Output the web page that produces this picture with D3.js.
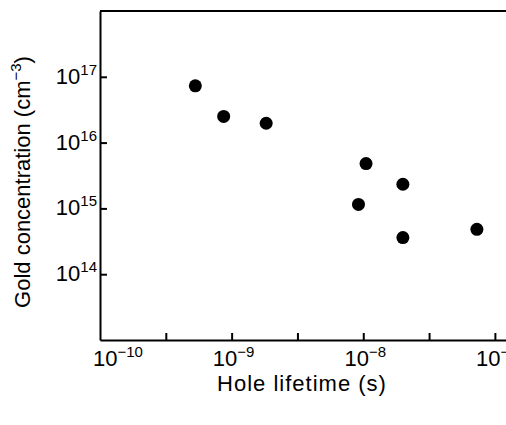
<!DOCTYPE html>
<html lang="en">
  <head>
    <meta charset="utf-8">
    <title>Gold concentration vs hole lifetime</title>
    <script src="https://d3js.org/d3.v7.min.js"></script>
    <style>
      body { margin: 0; background: #fff; }
      svg text { font-family: "Liberation Sans", Arial, sans-serif; fill: #000; }
    </style>
  </head>
  <body>
    <div id="main"></div>
    <script>
      // hole lifetime (s) and gold concentration (cm^-3)
      var lifetime = [5.3e-10, 8.7e-10, 1.83e-9, 1.05e-8, 2.0e-8, 9.2e-9, 2.0e-8, 7.3e-8];
      var concentration = [7.3e16, 2.5e16, 1.97e16, 4.8e15, 2.33e15, 1.15e15, 3.6e14, 4.8e14];
      var xDecades = [-10, -9, -8, -7];
      var xMinorTicks = [-9.5, -9, -8.5, -8, -7.5, -7];
      var yDecades = [14, 15, 16, 17];

      var width = 506, height = 425;
      var svg = d3.select("#main").append("svg")
        .attr("width", width)
        .attr("height", height);

      var x = d3.scaleLog().domain([1e-10, Math.pow(10, -6.87)]).range([100, 512]);
      var y = d3.scaleLog().domain([1e13, 1e18]).range([340, 11]);

      // frame: top line
      svg.append("line")
        .attr("x1", x.range()[0]).attr("x2", x.range()[1])
        .attr("y1", y.range()[1]).attr("y2", y.range()[1])
        .attr("stroke", "#000").attr("stroke-width", 2);

      svg.append("g")
        .attr("transform", "translate(0," + y.range()[0] + ")")
        .call(d3.axisBottom(x)
          .tickValues(xMinorTicks.map(function(e) { return Math.pow(10, e); }))
          .tickSizeInner(-7).tickSizeOuter(0).tickFormat(""));
      svg.append("g")
        .attr("transform", "translate(" + x.range()[0] + ",0)")
        .call(d3.axisLeft(y)
          .tickValues(yDecades.map(function(e) { return Math.pow(10, e); }))
          .tickSizeInner(-7).tickSizeOuter(0).tickFormat(""));
      svg.selectAll(".domain, .tick line")
        .attr("stroke", "#000").attr("stroke-width", 2);

      // x tick labels 10^n
      var xl = svg.selectAll(".xlab").data(xDecades).enter().append("text")
        .attr("class", "xlab")
        .attr("x", function(d) { return x(Math.pow(10, d)) + (d === -10 ? 18 : 2); })
        .attr("y", 366)
        .attr("text-anchor", "middle")
        .style("font-size", "22px");
      xl.append("tspan").text("10");
      xl.append("tspan").attr("dy", -9).style("font-size", "15px")
        .text(function(d) { return "\u2212" + Math.abs(d); });

      // y tick labels 10^n
      var yl = svg.selectAll(".ylab").data(yDecades).enter().append("text")
        .attr("class", "ylab")
        .attr("x", 97)
        .attr("y", function(d) { return y(Math.pow(10, d)) + 7; })
        .attr("text-anchor", "end")
        .style("font-size", "22px");
      yl.append("tspan").text("10");
      yl.append("tspan").attr("dy", -9).style("font-size", "15px")
        .text(function(d) { return d; });

      // axis titles
      svg.append("text")
        .attr("x", 302).attr("y", 391)
        .attr("text-anchor", "middle")
        .style("font-size", "22px")
        .style("letter-spacing", "1px")
        .text("Hole  lifetime (s)");
      var yt = svg.append("text")
        .attr("transform", "translate(30,182) rotate(-90)")
        .attr("text-anchor", "middle")
        .style("font-size", "22px");
      yt.append("tspan").text("Gold  concentration (cm");
      yt.append("tspan").attr("dy", -9).style("font-size", "15px").text("\u22123");
      yt.append("tspan").attr("dy", 9).text(")");

      // data points
      svg.selectAll(".dot").data(lifetime).enter().append("circle")
        .attr("class", "dot")
        .attr("cx", function(d) { return x(d); })
        .attr("cy", function(d, i) { return y(concentration[i]); })
        .attr("r", 6.5)
        .attr("fill", "#000");
    </script>
  </body>
</html>
